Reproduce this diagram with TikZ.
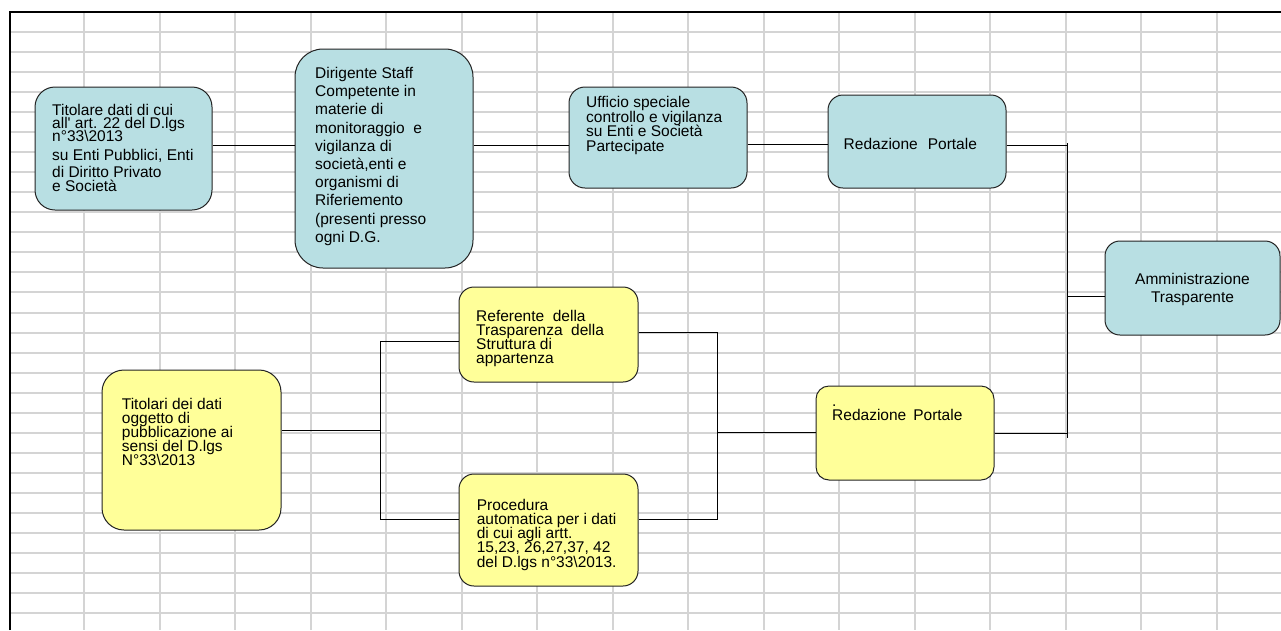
\documentclass[tikz,border=0pt]{standalone}
\usepackage{fontspec}
\setmainfont{Liberation Sans}
\definecolor{gridc}{RGB}{212,212,212}
\definecolor{boxcyan}{RGB}{184,223,227}
\definecolor{boxyel}{RGB}{255,255,153}
\definecolor{edgec}{RGB}{35,35,35}
\setlength{\lineskiplimit}{-50pt}
\newcommand{\tightlines}{\lineskiplimit -50pt\relax}
\tikzset{
  gridline/.style={draw=gridc, line width=2pt},
  border/.style={draw=black, line width=2.2pt},
  box/.style={draw=edgec, line width=1pt, rectangle, inner sep=0pt},
  cyanbox/.style={box, fill=boxcyan},
  yelbox/.style={box, fill=boxyel},
  txt/.style={inner sep=0pt, anchor=north west, align=left, font={\fontsize{15.5}{#1}\selectfont\tightlines}},
  ctxt/.style={inner sep=0pt, anchor=north, align=center, font={\fontsize{15.5}{#1}\selectfont\tightlines}},
  wire/.style={draw=black, line width=1pt},
}
\newcommand{\fs}{\rule{0pt}{12pt}}
\begin{document}
\begin{tikzpicture}[x=1pt, y=-1pt]
\useasboundingbox (0,0) rectangle (1281,630);
\fill[white] (0,0) rectangle (1281,630);
% spreadsheet grid
\foreach \k in {0,...,15} \draw[gridline] ({84.3+75.5*\k},12) -- ({84.3+75.5*\k},630);
\foreach \k in {0,...,29} \draw[gridline] (10,{31.7+20.06*\k}) -- (1281,{31.7+20.06*\k});
\draw[border] (10,630) -- (10,12) -- (1281,12);

% boxes
\node[cyanbox, rounded corners=20pt, minimum width=177pt, minimum height=123pt] (b1) at (123.5,148.5) {};
\node[cyanbox, rounded corners=28pt, minimum width=178pt, minimum height=219pt] (b2) at (384,158.5) {};
\node[cyanbox, rounded corners=16pt, minimum width=178pt, minimum height=101pt] (b3) at (658,137.5) {};
\node[cyanbox, rounded corners=15pt, minimum width=178pt, minimum height=93pt] (b4) at (917,141.5) {};
\node[cyanbox, rounded corners=15pt, minimum width=175pt, minimum height=94pt] (b5) at (1192.5,288) {};
\node[yelbox, rounded corners=22pt, minimum width=179pt, minimum height=160pt] (b6) at (191.5,450) {};
\node[yelbox, rounded corners=15pt, minimum width=179pt, minimum height=95pt] (b7) at (548.5,334.5) {};
\node[yelbox, rounded corners=15pt, minimum width=179pt, minimum height=112pt] (b8) at (548.5,530) {};
\node[yelbox, rounded corners=13pt, minimum width=178pt, minimum height=94pt] (b9) at (905,433) {};

% texts
\node[txt=13.3] (t1) at (52,103) {\fs Titolare dati di cui\\ all\textquotesingle{} art. 22 del D.lgs\\ n°33\textbackslash 2013\\[5pt] su Enti Pubblici, Enti\\[4.4pt] di Diritto Privato\\ e Società};
\node[txt=18.2] (t2) at (315,66.3) {\fs Dirigente Staff\\ Competente in\\ materie di\\ monitoraggio\ \ e\\ vigilanza di\\ società,enti e\\ organismi di\\ Riferiemento\\ (presenti presso\\ ogni D.G.};
\node[txt=14.4] (t3) at (586,95.7) {\fs Ufficio speciale\\ controllo e vigilanza\\ su Enti e Società\\ Partecipate};
\node[txt=14] (t4) at (843.5,137) {\fs Redazione\hspace{10pt}Portale};
\node[ctxt=18.3] (t5) at (1192.5,272) {\fs Amministrazione\\ Trasparente};
\node[txt=13.9] (t6) at (121.7,397.3) {\fs Titolari dei dati\\ oggetto di\\ pubblicazione ai\\ sensi del D.lgs\\ N°33\textbackslash 2013};
\node[txt=14.1] (t7) at (476,309) {\fs Referente\ \ della\\ Trasparenza\ \ della\\ Struttura di\\ appartenza};
\node[txt=14.2] (t8) at (476.6,498) {\fs Procedura\\ automatica per i dati\\ di cui agli artt.\\ 15,23, 26,27,37, 42\\ del D.lgs n°33\textbackslash 2013.};
\node[txt=14.6] (t9) at (832,394) {\fs .\\ Redazione\hspace{7pt}Portale};

% connector coordinates
\coordinate (r1) at (0,145);
\coordinate (r2) at (0,144);
\coordinate (pTop) at (1067.5,143);
\coordinate (pBot) at (1067.5,438);
\coordinate (pA) at (1067.5,145.5);
\coordinate (pM) at (1067.5,296);
\coordinate (pB) at (1067.5,433.5);
\coordinate (qT) at (380,341);
\coordinate (qM) at (380,430);
\coordinate (qB) at (380,519);
\coordinate (sT) at (717.5,332);
\coordinate (sM) at (717.5,432.5);
\coordinate (sB) at (717.5,519);

% connectors
\draw[wire] (b1.east |- r1) -- (b2.west |- r1);
\draw[wire] (b2.east |- r1) -- (b3.west |- r1);
\draw[wire] (b3.east |- r2) -- (b4.west |- r2);
\draw[wire] (b4.east |- pA) -- (pA);
\draw[wire] (pTop) -- (pBot);
\draw[wire] (pM) -- (b5.west |- pM);
\draw[wire] (b9.east |- pB) -- (pB);
\draw[wire] (b6.east |- qM) -- (qM);
\draw[wire] (b7.west |- qT) -- (qT) -- (qB) -- (b8.west |- qB);
\draw[wire] (b7.east |- sT) -- (sT) -- (sB) -- (b8.east |- sB);
\draw[wire] (sM) -- (b9.west |- sM);
\end{tikzpicture}
\end{document}
